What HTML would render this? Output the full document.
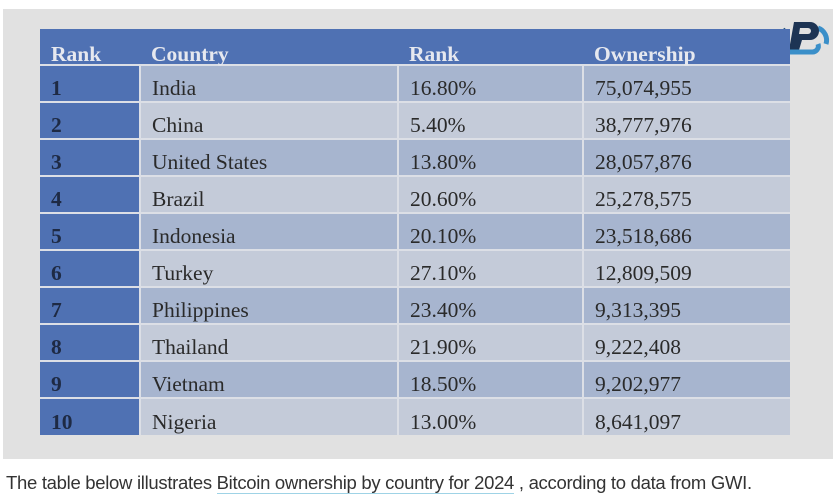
<!DOCTYPE html><html><head><style>
body{margin:0;width:836px;height:499px;background:#fff;position:relative;overflow:hidden;font-family:"Liberation Serif",serif}
.bg{position:absolute;left:3px;top:9px;width:830px;height:450px;background:#e1e1e1}
table{position:absolute;left:40px;top:29px;border-collapse:collapse;width:750px}
td,th{height:37px;padding:0 0 0 11px;font-size:21.5px;text-align:left;vertical-align:bottom;padding-bottom:2px;box-sizing:border-box;line-height:22px}
th{background:#4f71b3;color:#e6e8ef;font-weight:bold;height:36px;padding-bottom:1px;line-height:18px}
td{color:#2a2a2a;border-left:2px solid #dcdfe6;border-top:2px solid #dcdfe6}
td.r{background:#4f71b3;font-weight:bold;color:#1e2a44;border-left:none}
tr:nth-child(even) td:not(.r){background:#a7b5cf}
tr:nth-child(odd) td:not(.r){background:#c4cbd9}
.cap{position:absolute;left:6px;top:472px;font-family:"Liberation Sans",sans-serif;font-size:18.5px;color:#333;letter-spacing:-0.3px}
.cap u{text-decoration:none;border-bottom:1px solid #9fd3e6}
</style></head><body>
<div class="bg"></div>
<svg style="position:absolute;left:772px;top:18px" width="62" height="42" viewBox="0 0 62 42">
<path d="M14 12 A13 13 0 0 0 10 32" stroke="#1f4f78" stroke-width="5" fill="none"/>
<path d="M46 10 A13 13 0 0 1 54 26" stroke="#3a8fc9" stroke-width="5" fill="none"/>
<path d="M22 4 H38 A9 9 0 0 1 38 22 H30 L27 32 H17 Z" fill="#1d3454"/>
<path d="M28 10 H36 A3 3 0 0 1 36 16 H27 Z" fill="#e1e1e1"/>
<path d="M16 34 H40 A6 6 0 0 0 46 26" stroke="#3a8fc9" stroke-width="5" fill="none"/>
</svg>
<table>
<tr><th style="width:100px">Rank</th><th style="width:258px">Country</th><th style="width:185px">Rank</th><th>Ownership</th></tr>
<tr><td class="r">1</td><td>India</td><td>16.80%</td><td>75,074,955</td></tr>
<tr><td class="r">2</td><td>China</td><td>5.40%</td><td>38,777,976</td></tr>
<tr><td class="r">3</td><td>United States</td><td>13.80%</td><td>28,057,876</td></tr>
<tr><td class="r">4</td><td>Brazil</td><td>20.60%</td><td>25,278,575</td></tr>
<tr><td class="r">5</td><td>Indonesia</td><td>20.10%</td><td>23,518,686</td></tr>
<tr><td class="r">6</td><td>Turkey</td><td>27.10%</td><td>12,809,509</td></tr>
<tr><td class="r">7</td><td>Philippines</td><td>23.40%</td><td>9,313,395</td></tr>
<tr><td class="r">8</td><td>Thailand</td><td>21.90%</td><td>9,222,408</td></tr>
<tr><td class="r">9</td><td>Vietnam</td><td>18.50%</td><td>9,202,977</td></tr>
<tr><td class="r">10</td><td>Nigeria</td><td>13.00%</td><td>8,641,097</td></tr>
</table>
<div class="cap">The table below illustrates <u>Bitcoin ownership by country for 2024</u> , according to data from GWI.</div>
</body></html>
